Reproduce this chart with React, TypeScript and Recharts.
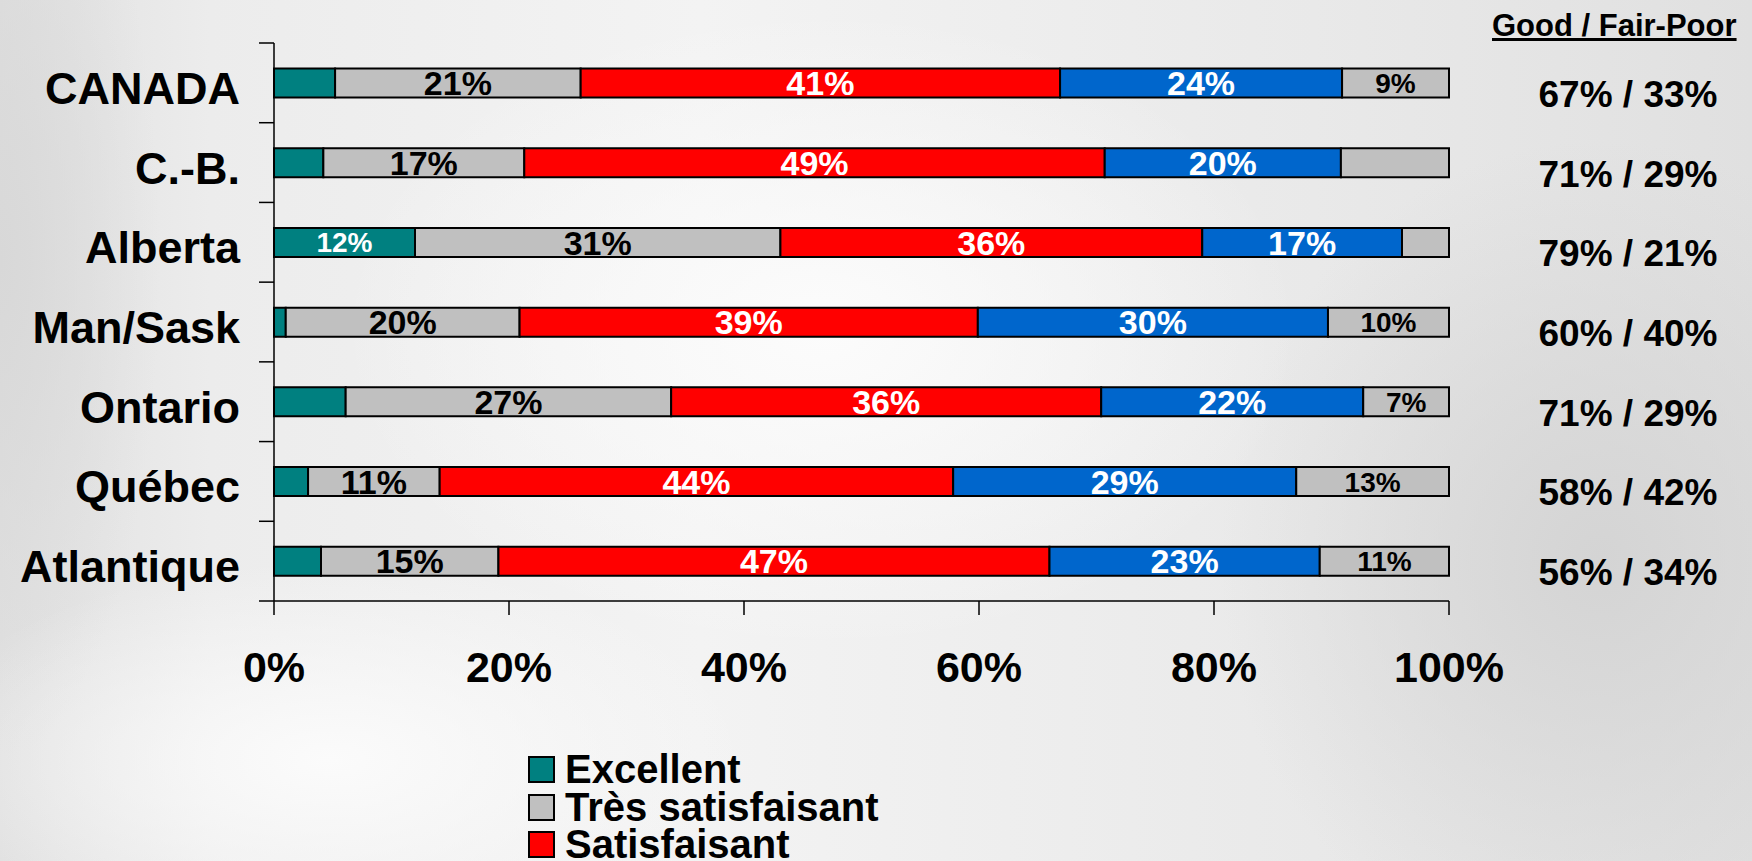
import React from 'react';
import { BarChart, Bar, XAxis, YAxis, Legend, LabelList } from 'recharts';

const regions = ['CANADA', 'C.-B.', 'Alberta', 'Man/Sask', 'Ontario', 'Québec', 'Atlantique'];
const excellent = [5.2, 4.2, 12.0, 1.0, 6.1, 2.9, 4.0];
const tresSatisfaisant = [20.9, 17.1, 31.1, 19.9, 27.7, 11.2, 15.1];
const satisfaisant = [40.8, 49.4, 35.9, 39.0, 36.6, 43.7, 46.9];
const passable = [24.0, 20.1, 17.0, 29.8, 22.3, 29.2, 23.0];
const mediocre = [9.1, 9.2, 4.0, 10.3, 7.3, 13.0, 11.0];

const excellentLabels = ['', '', '12%', '', '', '', ''];
const tresLabels = ['21%', '17%', '31%', '20%', '27%', '11%', '15%'];
const satLabels = ['41%', '49%', '36%', '39%', '36%', '44%', '47%'];
const passLabels = ['24%', '20%', '17%', '30%', '22%', '29%', '23%'];
const medLabels = ['9%', '', '', '10%', '7%', '13%', '11%'];
const goodFairPoor = ['67% / 33%', '71% / 29%', '79% / 21%', '60% / 40%', '71% / 29%', '58% / 42%', '56% / 34%'];

const xTicks = [0, 20, 40, 60, 80, 100];

const FONT = '"Liberation Sans", Arial, Helvetica, sans-serif';

const SERIES = [
  { key: 'exc', label: 'excL', name: 'Excellent', color: '#008080', text: '#fff', size: 28 },
  { key: 'tres', label: 'tresL', name: 'Très satisfaisant', color: '#C0C0C0', text: '#000', size: 34 },
  { key: 'sat', label: 'satL', name: 'Satisfaisant', color: '#FF0000', text: '#fff', size: 34 },
  { key: 'pass', label: 'passL', name: 'Passable', color: '#0066CC', text: '#fff', size: 34 },
  { key: 'med', label: 'medL', name: 'Médiocre', color: '#C0C0C0', text: '#000', size: 28 },
];

const data = regions.map((name, i) => ({
  name,
  exc: excellent[i],
  tres: tresSatisfaisant[i],
  sat: satisfaisant[i],
  pass: passable[i],
  med: mediocre[i],
  excL: excellentLabels[i],
  tresL: tresLabels[i],
  satL: satLabels[i],
  passL: passLabels[i],
  medL: medLabels[i],
  gfp: goodFairPoor[i],
}));

// category label plus the small tick marks that sit between the bands
const CategoryTick = (props: any) => {
  const { x, y, payload, index, visibleTicksCount } = props;
  const half = payload && typeof payload.offset === 'number' && payload.offset > 0 ? payload.offset : 40;
  const isLast = index === (visibleTicksCount ?? regions.length) - 1;
  return (
    <g>
      <line x1={x - 15} x2={x} y1={y - half} y2={y - half} stroke="#000" strokeWidth={1.5} />
      {isLast && <line x1={x - 15} x2={x} y1={y + half} y2={y + half} stroke="#000" strokeWidth={1.5} />}
      <text x={x - 34} y={y} dy={21} textAnchor="end" fontFamily={FONT} fontWeight="bold" fontSize={45} fill="#000">
        {payload.value}
      </text>
    </g>
  );
};

const RightTick = (props: any) => {
  const { x, y, payload } = props;
  const row = data.find((d) => d.name === payload.value);
  return (
    <text x={x + 171} y={y} dy={24} textAnchor="middle" fontFamily={FONT} fontWeight="bold" fontSize={37} fill="#000">
      {row ? row.gfp : ''}
    </text>
  );
};

const PercentTick = (props: any) => {
  const { x, y, payload } = props;
  return (
    <text x={x} y={y} dy={65} textAnchor="middle" fontFamily={FONT} fontWeight="bold" fontSize={43} fill="#000">
      {`${payload.value}%`}
    </text>
  );
};

const LegendBox = (props: any) => {
  const { payload } = props;
  const items = [...(payload || [])].sort(
    (a: any, b: any) => SERIES.findIndex((s) => s.name === a.value) - SERIES.findIndex((s) => s.name === b.value)
  );
  return (
    <div style={{ fontFamily: FONT, fontWeight: 'bold', fontSize: 40, color: '#000' }}>
      {items.map((p: any) => (
        <div key={p.value} style={{ display: 'flex', alignItems: 'center', height: 37.5 }}>
          <span
            style={{
              display: 'inline-block',
              width: 23,
              height: 23,
              background: p.color,
              border: '2px solid #000',
              marginRight: 10,
            }}
          />
          <span style={{ lineHeight: '37.5px' }}>{p.value}</span>
        </div>
      ))}
    </div>
  );
};

export default function App() {
  return (
    <div
      style={{
        position: 'relative',
        width: 1752,
        height: 861,
        overflow: 'hidden',
        background:
          'radial-gradient(ellipse 480px 320px at 820px 330px, #fcfcfc 0%, rgba(252,252,252,0) 100%),' +
          'radial-gradient(ellipse 420px 200px at 330px 760px, #fbfbfb 0%, rgba(251,251,251,0) 100%),' +
          'radial-gradient(ellipse 380px 420px at 1600px 560px, #d4d4d4 0%, rgba(212,212,212,0) 100%),' +
          'radial-gradient(ellipse 160px 500px at 0px 260px, #d8d8d8 0%, rgba(216,216,216,0) 100%),' +
          'linear-gradient(90deg, #e0e0e0 0%, #ececec 12%, #f3f3f3 40%, #e9e9e9 75%, #e0e0e0 100%)',
      }}
    >
      <style>{'body{margin:0;overflow:hidden}'}</style>
      <div
        style={{
          position: 'absolute',
          left: 1492,
          top: 8,
          fontFamily: FONT,
          fontWeight: 'bold',
          fontSize: 31,
          textDecoration: 'underline',
          color: '#000',
          whiteSpace: 'nowrap',
        }}
      >
        Good / Fair-Poor
      </div>
      <BarChart
        width={1752}
        height={861}
        data={data}
        layout="vertical"
        margin={{ top: 43, right: 0, bottom: 180, left: 0 }}
        barCategoryGap="32%"
      >
        <XAxis
          type="number"
          domain={[0, 100]}
          ticks={xTicks}
          tickSize={14}
          tick={<PercentTick />}
          axisLine={{ stroke: '#000', strokeWidth: 1.5 }}
          tickLine={{ stroke: '#000', strokeWidth: 1.5 }}
          height={80}
          interval={0}
        />
        <YAxis
          yAxisId="cat"
          type="category"
          dataKey="name"
          width={274}
          axisLine={{ stroke: '#000', strokeWidth: 1.5 }}
          tickLine={false}
          tickSize={0}
          tickMargin={0}
          tick={<CategoryTick />}
          interval={0}
        />
        <YAxis
          yAxisId="right"
          orientation="right"
          type="category"
          dataKey="name"
          width={303}
          axisLine={false}
          tickLine={false}
          tick={<RightTick />}
          interval={0}
        />
        <Legend
          layout="vertical"
          align="center"
          verticalAlign="middle"
          content={<LegendBox />}
          wrapperStyle={{ position: 'absolute', top: 751, left: 528, width: 'auto', height: 'auto' }}
        />
        {SERIES.map((s) => (
          <Bar
            key={s.key}
            dataKey={s.key}
            name={s.name}
            stackId="a"
            yAxisId="cat"
            fill={s.color}
            stroke="#000"
            strokeWidth={2}
            isAnimationActive={false}
          >
            <LabelList
              dataKey={s.label}
              position="center"
              fill={s.text}
              fontSize={s.size}
              fontWeight="bold"
              fontFamily={FONT}
            />
          </Bar>
        ))}
      </BarChart>
    </div>
  );
}
